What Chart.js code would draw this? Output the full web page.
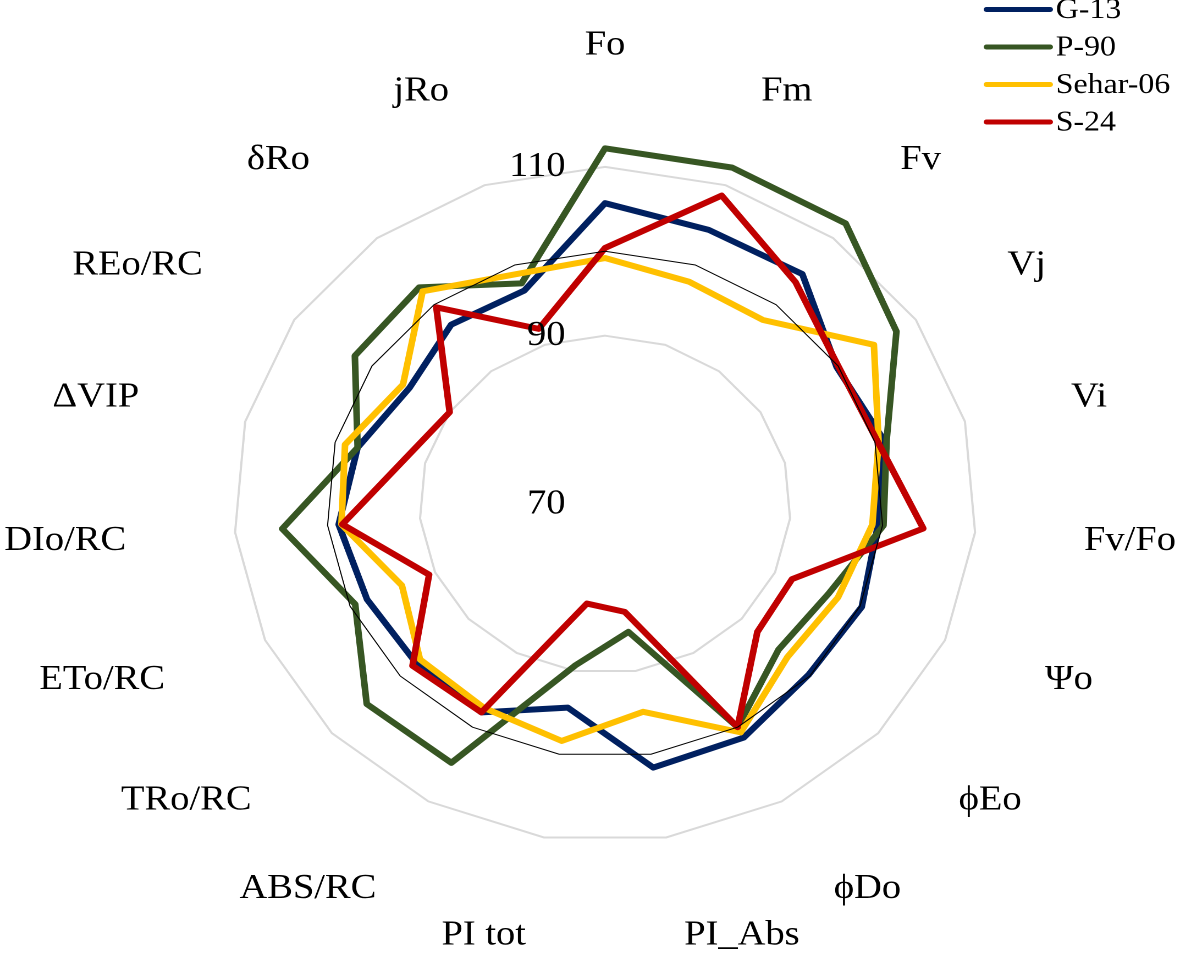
<!DOCTYPE html>
<html>
<head>
<meta charset="utf-8">
<script src="https://cdn.jsdelivr.net/npm/chart.js@4.4.1/dist/chart.umd.min.js"></script>
<style>
  html, body { margin: 0; padding: 0; background: #fff; overflow: hidden; }
  /* the reference is a bit wider than tall, so stretch the chart horizontally */
  #wrap { position: absolute; left: 0; top: 0; width: 1073px; height: 958px;
          transform: scaleX(1.0997); transform-origin: 0 0; }
</style>
</head>
<body>
<div id="wrap"><canvas id="radar"></canvas></div>
<script>
const categories = ['Fo', 'Fm', 'Fv', 'Vj', 'Vi', 'Fv/Fo', 'Ψo', 'ϕEo', 'ϕDo', 'PI_Abs',
  'PI tot', 'ABS/RC', 'TRo/RC', 'ETo/RC', 'DIo/RC', 'ΔVIP', 'REo/RC', 'δRo', 'jRo'];

const g13 = [105.7, 104.4, 104.6, 99.8, 101.0, 99.5, 100.2, 99.8, 101.4, 101.6,
  94.4, 98.0, 97.7, 98.0, 98.8, 97.5, 95.2, 97.0, 96.8];
const p90 = [112.2, 112.2, 112.2, 107.5, 101.3, 100.1, 96.3, 95.4, 100.0, 85.3,
  89.3, 104.8, 104.9, 99.4, 104.9, 97.5, 102.2, 102.6, 97.7];
const sehar06 = [99.2, 97.9, 97.7, 104.6, 100.4, 98.9, 97.4, 96.7, 100.7, 94.9,
  98.4, 97.4, 97.1, 93.9, 98.5, 98.9, 96.0, 102.0, 98.9];
const s24 = [100.4, 108.7, 103.4, 100.0, 100.3, 104.4, 92.0, 92.3, 100.0, 82.9,
  81.9, 98.0, 98.2, 90.7, 98.4, 92.2, 90.0, 99.6, 92.0];
// control reference (thin black polygon)
const control = categories.map(() => 100);

const tickValues = [70, 90, 110];
const axisMin = 70;
const axisMax = 120;

const series = [
  { name: 'G-13', data: g13, color: '#002060', order: 4 },
  { name: 'P-90', data: p90, color: '#375623', order: 3 },
  { name: 'Sehar-06', data: sehar06, color: '#FFC000', order: 2 },
  { name: 'S-24', data: s24, color: '#C00000', order: 1 }
];

const FONT = '"Liberation Serif", "Times New Roman", serif';

// labels, tick numbers and legend are drawn here so they sit like the Excel original
const radarText = {
  id: 'radarText',
  afterDraw(chart) {
    const ctx = chart.ctx;
    const scale = chart.scales.r;
    ctx.save();
    ctx.fillStyle = '#000';

    // category labels around the web
    ctx.font = '35px ' + FONT;
    ctx.textBaseline = 'middle';
    categories.forEach((name, i) => {
      const p = scale.getPointPosition(i, 437);
      const s = Math.sin(scale.getIndexAngle(i));
      let y = p.y;
      if (Math.abs(s) < 0.05) {
        ctx.textAlign = 'center';
        y -= 22;
      } else {
        ctx.textAlign = s > 0 ? 'left' : 'right';
      }
      ctx.fillText(name, p.x, y);
    });

    // tick numbers along the top axis
    ctx.font = '35px ' + FONT;
    ctx.textAlign = 'right';
    tickValues.forEach(v => {
      const y = scale.yCenter - scale.getDistanceFromCenterForValue(v);
      ctx.fillText(String(v), scale.xCenter - 36, y);
    });

    // legend, top right
    ctx.font = '29px ' + FONT;
    ctx.textAlign = 'left';
    ctx.lineCap = 'round';
    ctx.lineWidth = 5;
    series.forEach((s, i) => {
      const y = 9.5 + i * 37.5;
      ctx.strokeStyle = s.color;
      ctx.beginPath();
      ctx.moveTo(897, y);
      ctx.lineTo(955, y);
      ctx.stroke();
      ctx.fillText(s.name, 960, y + 1);
    });
    ctx.restore();
  }
};

const datasets = series.map(s => ({
  label: s.name,
  data: s.data,
  borderColor: s.color,
  borderWidth: 6,
  order: s.order
}));
datasets.push({
  label: 'Control',
  data: control,
  borderColor: '#000000',
  borderWidth: 1,
  order: 0
});

const ctx = document.getElementById('radar').getContext('2d');
new Chart(ctx, {
  type: 'radar',
  data: { labels: categories, datasets: datasets },
  options: {
    responsive: true,
    maintainAspectRatio: false,
    animation: false,
    devicePixelRatio: 2,
    layout: { padding: 0 },
    elements: {
      line: { tension: 0, fill: false, borderJoinStyle: 'round' },
      point: { radius: 0, hoverRadius: 0 }
    },
    plugins: {
      legend: { display: false },
      tooltip: { enabled: false }
    },
    scales: {
      r: {
        min: axisMin,
        max: axisMax,
        ticks: { display: false },
        grid: {
          lineWidth: 2,
          color: (c) => tickValues.includes(c.tick.value) ? '#d9d9d9' : 'rgba(0,0,0,0)'
        },
        angleLines: { display: false },
        pointLabels: { display: false },
        afterBuildTicks: (scale) => {
          scale.ticks = tickValues.concat([axisMax]).map(v => ({ value: v }));
        },
        afterFit: (scale) => {
          // place the web where it sits in the reference
          scale.xCenter = 550.2;
          scale.yCenter = 504.5;
          scale.drawingArea = 8.44 * (axisMax - axisMin);
        }
      }
    }
  },
  plugins: [radarText]
});
</script>
</body>
</html>
